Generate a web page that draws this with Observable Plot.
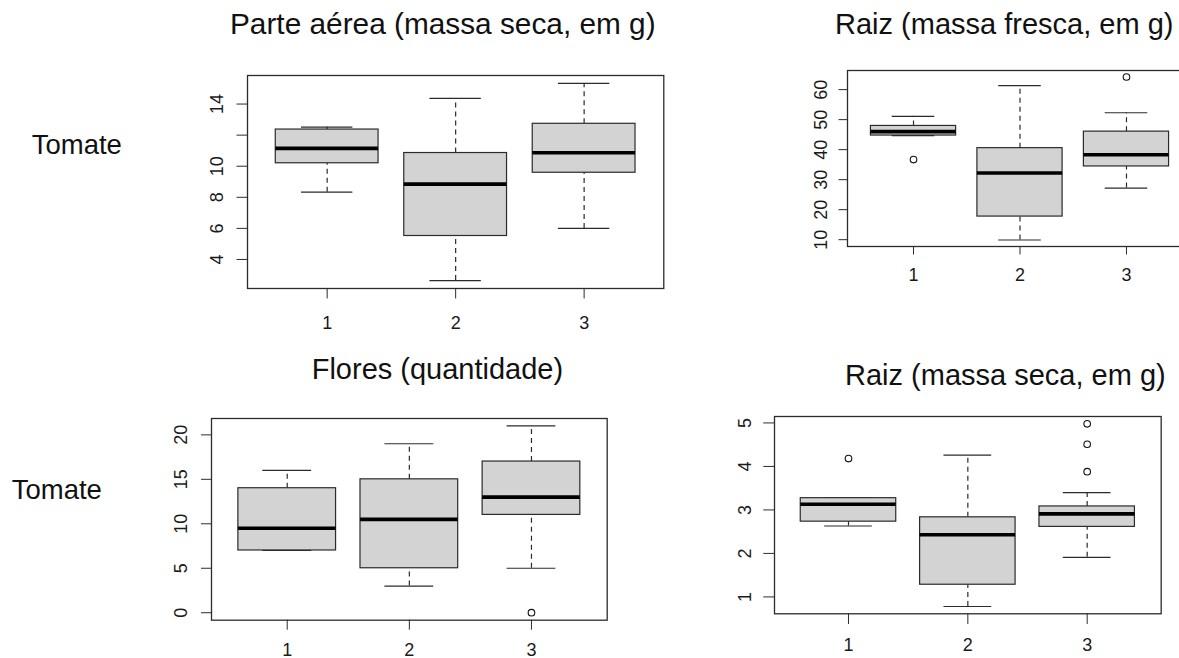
<!DOCTYPE html>
<html>
<head>
<meta charset="utf-8">
<script src="https://cdn.jsdelivr.net/npm/d3@7"></script>
<script src="https://cdn.jsdelivr.net/npm/@observablehq/plot@0.6"></script>
<style>
  html, body { margin: 0; padding: 0; background: #fff; }
  #root { position: relative; width: 1179px; height: 658px; overflow: hidden; background: #fff;
          font-family: "Liberation Sans", Arial, sans-serif; color: #111; }
  .panel { position: absolute; }
  .lbl { position: absolute; white-space: nowrap; line-height: 1; font-size: 28px; color: #111; }
</style>
</head>
<body>
<div id="root"></div>
<script>
// ---- data ----
const groups = [1, 2, 3];
// five-number summaries per group: [lower whisker, Q1, median, Q3, upper whisker]
const parteAereaSeca = [[8.33, 10.19, 11.15, 12.36, 12.51], [2.64, 5.51, 8.85, 10.85, 14.36], [6.0, 9.58, 10.87, 12.73, 15.33]];
const parteAereaSecaOut = [];
const raizFresca = [[44.7, 44.7, 46.0, 47.9, 51.1], [9.9, 17.7, 32.2, 40.5, 61.3], [27.2, 34.4, 38.3, 46.0, 52.3]];
const raizFrescaOut = [[1, 36.7], [3, 64.2]];
const flores = [[7, 7, 9.5, 14, 16], [3, 5, 10.5, 15, 19], [5, 11, 13, 17, 21]];
const floresOut = [[3, 0]];
const raizSeca = [[2.63, 2.73, 3.13, 3.27, 3.27], [0.78, 1.28, 2.43, 2.83, 4.26], [1.91, 2.61, 2.91, 3.08, 3.40]];
const raizSecaOut = [[1, 4.18], [3, 4.98], [3, 4.51], [3, 3.88]];

const xTicks = [1, 2, 3];
const xTickLabels = ["1", "2", "3"];
const ticksParte = [4, 6, 8, 10, 12, 14];
const labelsParte = ["4", "6", "8", "10", "", "14"];
const ticksRaizFresca = [10, 20, 30, 40, 50, 60];
const labelsRaizFresca = ["10", "20", "30", "40", "50", "60"];
const ticksFlores = [0, 5, 10, 15, 20];
const labelsFlores = ["0", "5", "10", "15", "20"];
const ticksRaizSeca = [1, 2, 3, 4, 5];
const labelsRaizSeca = ["1", "2", "3", "4", "5"];

const titles = ["Parte aérea (massa seca, em g)", "Raiz (massa fresca, em g)", "Flores (quantidade)", "Raiz (massa seca, em g)"];
const rowLabel = "Tomate";

// ---- drawing ----
const root = document.getElementById("root");

function panel(stats, outs, ticks, labels, L) {
  const data = stats.map((s, i) => ({g: groups[i], lower: s[0], q1: s[1], median: s[2], q3: s[3], upper: s[4]}));
  const outliers = outs.map(o => ({g: o[0], v: o[1]}));
  const vals = stats.flat().concat(outs.map(o => o[1]));
  const lo = d3.min(vals), hi = d3.max(vals), pad = (hi - lo) * 0.04;
  const ml = 60, mr = 2, mt = 4, mb = 45;
  const stroke = "#2b2b2b";
  const fs = 18;
  const chart = Plot.plot({
    width: L.fw + ml + mr, height: L.fh + mt + mb,
    marginLeft: ml, marginRight: mr, marginTop: mt, marginBottom: mb,
    x: {domain: [0.38, 3.62]},
    y: {domain: [lo - pad, hi + pad]},
    style: {fontFamily: '"Liberation Sans", Arial, sans-serif', fontSize: fs + "px", color: "#1a1a1a", background: "none", overflow: "visible", maxWidth: "none"},
    marks: [
      Plot.ruleX(data, {x: "g", y1: "lower", y2: "q1", stroke, strokeWidth: 1.2, strokeDasharray: "5,4"}),
      Plot.ruleX(data, {x: "g", y1: "q3", y2: "upper", stroke, strokeWidth: 1.2, strokeDasharray: "5,4"}),
      Plot.ruleY(data, {y: "lower", x1: d => d.g - 0.2, x2: d => d.g + 0.2, stroke, strokeWidth: 1.2}),
      Plot.ruleY(data, {y: "upper", x1: d => d.g - 0.2, x2: d => d.g + 0.2, stroke, strokeWidth: 1.2}),
      Plot.rect(data, {x1: d => d.g - 0.4, x2: d => d.g + 0.4, y1: "q1", y2: "q3", fill: "#d3d3d3", stroke, strokeWidth: 1.2}),
      Plot.ruleY(data, {y: "median", x1: d => d.g - 0.4, x2: d => d.g + 0.4, stroke: "#000", strokeWidth: 3.6}),
      Plot.dot(outliers, {x: "g", y: "v", r: 3.3, stroke: "#111", strokeWidth: 1.1, fill: "none"}),
      Plot.frame({stroke, strokeWidth: 1.3}),
      Plot.axisX({ticks: xTicks, tickFormat: d => xTickLabels[xTicks.indexOf(d)], tickSize: L.tick, tickPadding: L.xPad, label: null, stroke: "#2b2b2b", fontSize: fs, fill: "#1a1a1a"}),
      Plot.axisY({ticks, tickFormat: d => labels[ticks.indexOf(d)], tickSize: L.tick, tickPadding: L.yPad, tickRotate: -90, label: null, stroke: "#2b2b2b", fontSize: fs, fill: "#1a1a1a"})
    ]
  });
  const wrap = document.createElement("div");
  wrap.className = "panel";
  wrap.style.left = (L.left - ml) + "px";
  wrap.style.top = (L.top - mt) + "px";
  wrap.appendChild(chart);
  root.appendChild(wrap);
}

panel(parteAereaSeca, parteAereaSecaOut, ticksParte, labelsParte,
  {left: 246.7, top: 75, fw: 416.3, fh: 213, tick: 10.5, xPad: 17.6, yPad: 14.3});
panel(raizFresca, raizFrescaOut, ticksRaizFresca, labelsRaizFresca,
  {left: 846.7, top: 70, fw: 345, fh: 176, tick: 8.5, xPad: 13.3, yPad: 12.1});
panel(flores, floresOut, ticksFlores, labelsFlores,
  {left: 211, top: 418.3, fw: 395.7, fh: 201.7, tick: 10, xPad: 12.6, yPad: 14.3});
panel(raizSeca, raizSecaOut, ticksRaizSeca, labelsRaizSeca,
  {left: 774, top: 416, fw: 386.7, fh: 197.3, tick: 10.7, xPad: 14.1, yPad: 13.2});

function label(text, left, baseline, size) {
  const el = document.createElement("div");
  el.className = "lbl";
  el.textContent = text;
  el.style.fontSize = size + "px";
  el.style.left = left + "px";
  el.style.top = (baseline - 0.8465 * size) + "px";
  root.appendChild(el);
}
label(titles[0], 230, 34, 29.8);
label(titles[1], 835, 35, 29);
label(titles[2], 311.7, 380, 29);
label(titles[3], 845, 386, 29);
label(rowLabel, 31.7, 154, 27.5);
label(rowLabel, 11.7, 499, 27.5);
</script>
</body>
</html>
